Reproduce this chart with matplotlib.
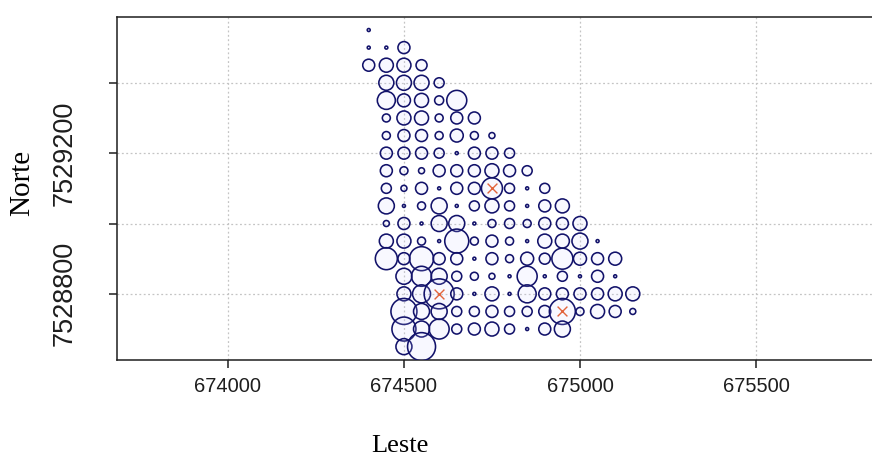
import numpy as np
import matplotlib
matplotlib.use("Agg")
import matplotlib.pyplot as plt
from matplotlib.ticker import FixedLocator, FuncFormatter

# coordenadas UTM das amostras (leste, norte) e teor medido em cada ponto
leste = [
    674400,
    674400, 674450, 674500,
    674400, 674450, 674500, 674550,
    674450, 674500, 674550, 674600,
    674450, 674500, 674550, 674600, 674650,
    674450, 674500, 674550, 674600, 674650, 674700,
    674450, 674500, 674550, 674600, 674650, 674700, 674750,
    674450, 674500, 674550, 674600, 674650, 674700, 674750, 674800,
    674450, 674500, 674550, 674600, 674650, 674700, 674750, 674800, 674850,
    674450, 674500, 674550, 674600, 674650, 674700, 674750, 674800, 674850, 674900,
    674450, 674500, 674550, 674600, 674650, 674700, 674750, 674800, 674850, 674900, 674950,
    674450, 674500, 674550, 674600, 674650, 674700, 674750, 674800, 674850, 674900, 674950, 675000,
    674450, 674500, 674550, 674600, 674650, 674700, 674750, 674800, 674850, 674900, 674950, 675000, 675050,
    674450, 674500, 674550, 674600, 674650, 674700, 674750, 674800, 674850, 674900, 674950, 675000, 675050, 675100,
    674500, 674550, 674600, 674650, 674700, 674750, 674800, 674850, 674900, 674950, 675000, 675050, 675100,
    674500, 674550, 674600, 674650, 674700, 674750, 674800, 674850, 674900, 674950, 675000, 675050, 675100, 675150,
    674500, 674550, 674600, 674650, 674700, 674750, 674800, 674850, 674900, 674950, 675000, 675050, 675100, 675150,
    674500, 674550, 674600, 674650, 674700, 674750, 674800, 674850, 674900, 674950,
    674500, 674550,
]
norte = (
    [7529550] * 1 + [7529500] * 3 + [7529450] * 4 + [7529400] * 4 +
    [7529350] * 5 + [7529300] * 6 + [7529250] * 7 + [7529200] * 8 +
    [7529150] * 9 + [7529100] * 10 + [7529050] * 11 + [7529000] * 12 +
    [7528950] * 13 + [7528900] * 14 + [7528850] * 13 + [7528800] * 14 +
    [7528750] * 14 + [7528700] * 10 + [7528650] * 2
)
teor = [
    1.5,
    1.5, 1.5, 6,
    6, 7, 7, 5.5,
    7.5, 7.5, 7.5, 5,
    9, 6.5, 7, 4.5, 10,
    4, 7, 7, 4, 6, 6,
    4, 6, 6, 4, 6.5, 4, 3,
    6, 6, 6, 5, 1.5, 6, 6, 5,
    6, 4, 3, 6, 6, 6, 7, 6, 5,
    5, 3, 6, 1.5, 6, 6, 10.5, 5, 1.5, 5,
    8, 1.5, 4, 8, 1.5, 5, 7, 5, 1.5, 6, 7,
    3, 6, 1.5, 8, 8, 1.5, 4, 5, 4, 6, 6, 7,
    7, 7, 4, 1.5, 12, 4, 6, 4, 1.5, 7, 7, 8, 1.5,
    11, 6, 12, 6, 6, 1.5, 6, 4, 6.5, 5.5, 10.5, 6.5, 6, 6.5,
    8, 10, 8, 5, 4, 3, 1.5, 10, 1.5, 5, 1.5, 6, 1.5,
    7, 9, 15, 6, 1.5, 7, 1.5, 9, 6, 6, 6, 6, 7, 7,
    13, 8, 8, 5, 5, 6, 5, 5, 6, 13, 4, 7, 6, 3,
    12, 8, 10, 5, 6, 7, 5, 1.5, 6, 8,
    8, 14,
]

# pontos destacados com x
destaque_leste = [674750, 674600, 674950]
destaque_norte = [7529100, 7528800, 7528750]

xticks = [674000, 674500, 675000, 675500]
yticks = [7528800, 7529000, 7529200, 7529400]
yticks_rotulados = [7528800, 7529200]

fig = plt.figure(figsize=(8.72, 4.65), dpi=100)
ax = fig.add_axes([117 / 872, 105 / 465, 783 / 872, 343 / 465])

# raio em pixels -> area do marcador em pt^2
raio_px = np.array(teor) * 1.0
tam = (2 * raio_px * 0.72) ** 2

ax.scatter(leste, norte, s=tam, facecolors=(0.82, 0.82, 1.0, 0.14),
           edgecolors="#12126a", linewidths=1.15, zorder=3)
ax.scatter(destaque_leste, destaque_norte, marker="x", s=50,
           color="#e2643c", linewidths=1.0, zorder=4)

ax.set_xlim(673685, 675909)
ax.set_ylim(7528612, 7529587)

ax.xaxis.set_major_locator(FixedLocator(xticks))
ax.yaxis.set_major_locator(FixedLocator(yticks))
ax.yaxis.set_major_formatter(
    FuncFormatter(lambda v, p: f"{int(v)}" if int(v) in yticks_rotulados else ""))

ax.grid(True, color="#c4c4c4", linestyle=(0, (1.5, 2)), linewidth=0.9, zorder=0)

for s in ax.spines.values():
    s.set_linewidth(1.1)
    s.set_color("#1e1e1e")

ax.tick_params(axis="both", direction="out", length=6, width=1.1, colors="#1e1e1e")
ax.tick_params(axis="x", pad=6, labelsize=14.5)
ax.tick_params(axis="y", pad=32, labelsize=19.5)
for lab in ax.get_yticklabels():
    lab.set_rotation(90)
    lab.set_va("center")
    lab.set_ha("center")
for lab in ax.get_xticklabels() + ax.get_yticklabels():
    lab.set_family("Liberation Sans")

ax.set_xlabel("Leste", family="Liberation Serif", fontsize=19)
ax.set_ylabel("Norte", family="Liberation Serif", fontsize=21)
ax.xaxis.label.set_va("center")
ax.yaxis.label.set_va("center")
ax.xaxis.set_label_coords(0.3614, -0.2507)
ax.yaxis.set_label_coords(-0.1213, 0.516)

fig.savefig("out.png", dpi=100)
